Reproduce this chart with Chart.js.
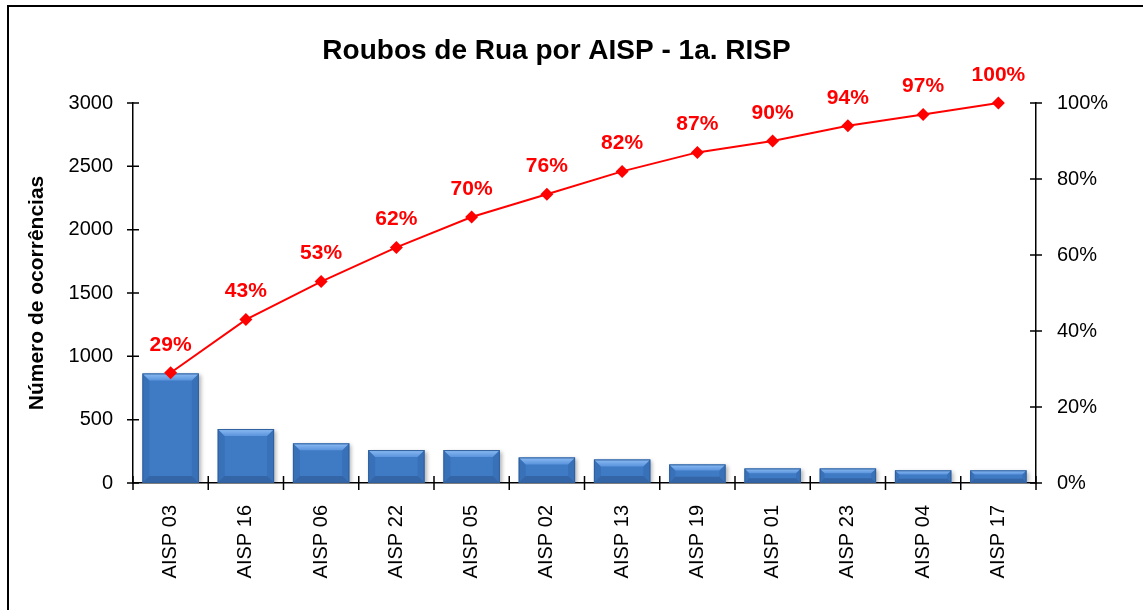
<!DOCTYPE html>
<html>
<head>
<meta charset="utf-8">
<script src="https://cdn.jsdelivr.net/npm/chart.js@4"></script>
<style>
  body { margin: 0; background: #fff; }
  #wrap { position: relative; width: 1143px; height: 610px; }
  #frame { position: absolute; left: 7px; top: 5px; right: -10px; bottom: -10px; border: 2px solid #000; }
</style>
</head>
<body>
<div id="wrap">
  <div id="frame"></div>
  <canvas id="myChart" width="1143" height="610"></canvas>
</div>
<script>
// values
const aisps = ["AISP 03", "AISP 16", "AISP 06", "AISP 22", "AISP 05", "AISP 02",
  "AISP 13", "AISP 19", "AISP 01", "AISP 23", "AISP 04", "AISP 17"];
const ocorrencias = [865, 426, 313, 260, 260, 202, 186, 147, 115, 115, 100, 100];
const acumulado = [0.29, 0.43, 0.53, 0.62, 0.70, 0.76, 0.82, 0.87, 0.90, 0.94, 0.97, 1.00];

const FONT = "Arial, 'Liberation Sans', sans-serif";

// ticks that cross the axis lines, like the excel original
const crossTicks = {
  id: "crossTicks",
  afterDraw(chart) {
    const ctx = chart.ctx;
    const { x, y, y1 } = chart.scales;
    ctx.save();
    ctx.strokeStyle = "#000";
    ctx.lineWidth = 1.5;
    ctx.beginPath();
    y.ticks.forEach((t, i) => {
      const py = y.getPixelForTick(i);
      ctx.moveTo(y.right - 6, py); ctx.lineTo(y.right + 6, py);
    });
    y1.ticks.forEach((t, i) => {
      const py = y1.getPixelForTick(i);
      ctx.moveTo(y1.left - 6, py); ctx.lineTo(y1.left + 6, py);
    });
    for (let i = 0; i <= aisps.length; i++) {
      const px = x.getPixelForValue(i - 0.5);
      ctx.moveTo(px, x.top - 7); ctx.lineTo(px, x.top + 7);
    }
    ctx.stroke();
    ctx.restore();
  }
};

// bevel look on the bars + shadow
const bevel = {
  id: "bevel",
  beforeDatasetDraw(chart, args) {
    if (args.index !== 0) return;
    const ctx = chart.ctx;
    ctx.save();
    ctx.shadowColor = "rgba(0,0,0,0.3)";
    ctx.shadowBlur = 4;
    ctx.shadowOffsetX = 2;
    ctx.shadowOffsetY = 2;
  },
  afterDatasetDraw(chart, args) {
    if (args.index !== 0) return;
    const ctx = chart.ctx;
    ctx.restore();
    ctx.save();
    args.meta.data.forEach((bar) => {
      const { x, y, base, width } = bar.getProps(["x", "y", "base", "width"], true);
      const l = x - width / 2, r = x + width / 2, t = y, b = base;
      const e = Math.min(7, (b - t) / 3);
      // top bevel
      let g = ctx.createLinearGradient(0, t, 0, t + e);
      g.addColorStop(0, "#8cbcf3");
      g.addColorStop(1, "#5b94dd");
      ctx.fillStyle = g;
      ctx.beginPath();
      ctx.moveTo(l, t); ctx.lineTo(r, t); ctx.lineTo(r - e, t + e); ctx.lineTo(l + e, t + e);
      ctx.closePath(); ctx.fill();
      // sides
      ctx.fillStyle = "rgba(20,50,100,0.12)";
      ctx.beginPath();
      ctx.moveTo(l, t); ctx.lineTo(l + e, t + e); ctx.lineTo(l + e, b - e); ctx.lineTo(l, b);
      ctx.closePath(); ctx.fill();
      ctx.beginPath();
      ctx.moveTo(r, t); ctx.lineTo(r - e, t + e); ctx.lineTo(r - e, b - e); ctx.lineTo(r, b);
      ctx.closePath(); ctx.fill();
      // bottom
      ctx.fillStyle = "rgba(15,40,80,0.25)";
      ctx.beginPath();
      ctx.moveTo(l, b); ctx.lineTo(r, b); ctx.lineTo(r - e, b - e); ctx.lineTo(l + e, b - e);
      ctx.closePath(); ctx.fill();
      ctx.strokeStyle = "#2f5f9c";
      ctx.lineWidth = 1;
      ctx.strokeRect(l + 0.5, t + 0.5, width - 1, b - t - 1);
    });
    ctx.restore();
  }
};

// red percentage labels above the line points
const pctLabels = {
  id: "pctLabels",
  afterDatasetsDraw(chart) {
    const ctx = chart.ctx;
    const meta = chart.getDatasetMeta(1);
    ctx.save();
    ctx.fillStyle = "#ff0000";
    ctx.font = "bold 21px " + FONT;
    ctx.textAlign = "center";
    ctx.textBaseline = "middle";
    meta.data.forEach((pt, i) => {
      ctx.fillText(Math.round(acumulado[i] * 100) + "%", pt.x, pt.y - 28);
    });
    ctx.restore();
  }
};

const ctx = document.getElementById("myChart").getContext("2d");
const chart = new Chart(ctx, {
  type: "bar",
  data: {
    labels: aisps,
    datasets: [
      {
        type: "bar",
        label: "Ocorrências",
        data: ocorrencias,
        backgroundColor: "#3f7ac4",
        borderWidth: 0,
        barPercentage: 0.75,
        categoryPercentage: 1,
        yAxisID: "y",
        order: 1
      },
      {
        type: "line",
        label: "% acumulado",
        data: acumulado,
        borderColor: "#ff0000",
        borderWidth: 2,
        backgroundColor: "#ff0000",
        pointStyle: "rectRot",
        pointRadius: 6.5,
        pointHoverRadius: 6.5,
        pointBorderWidth: 0,
        tension: 0,
        clip: false,
        yAxisID: "y1",
        order: 0
      }
    ]
  },
  plugins: [crossTicks, bevel, pctLabels],
  options: {
    responsive: false,
    animation: false,
    layout: { padding: { left: 0, right: 30, top: 0, bottom: 0 } },
    plugins: {
      legend: { display: false },
      tooltip: { enabled: false },
      title: {
        display: true,
        text: "Roubos de Rua por AISP - 1a. RISP",
        color: "#000",
        font: { family: FONT, size: 28, weight: "bold", lineHeight: 1.2 },
        padding: { top: 34, bottom: 35.4 }
      }
    },
    scales: {
      x: {
        grid: { display: false, drawTicks: false },
        border: { display: true, color: "#000", width: 1.5 },
        ticks: {
          color: "#000",
          font: { family: FONT, size: 20 },
          maxRotation: 90,
          minRotation: 90,
          padding: 22
        },
        afterFit(scale) { scale.height = 127; }
      },
      y: {
        position: "left",
        min: 0,
        max: 3000,
        grid: { display: false, drawTicks: false },
        border: { display: true, color: "#000", width: 1.5 },
        ticks: {
          stepSize: 500,
          color: "#000",
          font: { family: FONT, size: 20 },
          padding: 20,
          callback: (v) => String(v)
        },
        title: {
          display: true,
          text: "Número de ocorrências",
          color: "#000",
          font: { family: FONT, size: 21, weight: "bold" },
          padding: { top: 25 }
        },
        afterFit(scale) { scale.width = 133; }
      },
      y1: {
        position: "right",
        min: 0,
        max: 1,
        grid: { display: false, drawTicks: false },
        border: { display: true, color: "#000", width: 1.5 },
        ticks: {
          stepSize: 0.2,
          color: "#000",
          font: { family: FONT, size: 20 },
          padding: 21,
          callback: (v) => Math.round(v * 100) + "%"
        },
        afterFit(scale) { scale.width = 77; }
      }
    }
  }
});
</script>
</body>
</html>
